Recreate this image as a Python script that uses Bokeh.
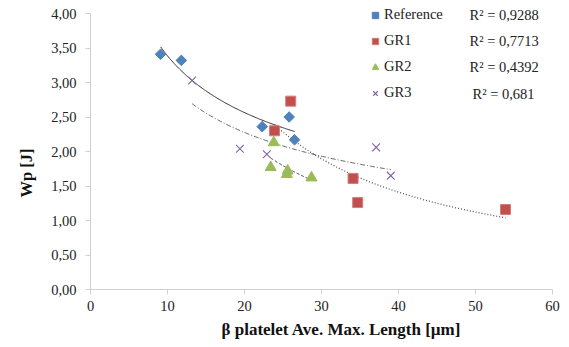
import numpy as np
from bokeh.plotting import figure
from bokeh.models import (Legend, LegendItem, Label, Title, FixedTicker,
                          CustomJSTickFormatter, Range1d)
from bokeh.embed import file_html
from bokeh.resources import INLINE

# ---- data ----
series_names = ["Reference", "GR1", "GR2", "GR3"]
ref_x = [9.1, 11.8, 22.3, 25.8, 26.5]
ref_y = [3.41, 3.32, 2.36, 2.50, 2.17]
gr1_x = [23.9, 26.0, 34.1, 34.7, 53.9]
gr1_y = [2.30, 2.73, 1.61, 1.26, 1.16]
gr2_x = [23.4, 23.8, 25.5, 25.6, 28.7]
gr2_y = [1.77, 2.13, 1.67, 1.72, 1.62]
gr3_x = [13.2, 19.4, 22.9, 37.1, 39.0]
gr3_y = [3.03, 2.04, 1.96, 2.06, 1.65]
r2_labels = ["R² = 0,9288", "R² = 0,7713", "R² = 0,4392", "R² = 0,681"]
x_ticks = [0, 10, 20, 30, 40, 50, 60]
y_ticks = [0.0, 0.5, 1.0, 1.5, 2.0, 2.5, 3.0, 3.5, 4.0]
x_title = "β platelet Ave. Max. Length [µm]"
y_title = "Wp [J]"

FONT = "Liberation Serif"
colors = ["#4F81BD", "#C0504D", "#9BBB59", "#8064A2"]

# frame reaches the top edge; 4,00 sits 13 px below it
p = figure(width=569, height=347, output_backend="svg", toolbar_location=None,
           x_range=Range1d(0, 60), y_range=Range1d(0, 4 * 289 / 276),
           min_border_left=90, min_border_right=17, min_border_top=0,
           min_border_bottom=58)
p.outline_line_color = None
p.xgrid.visible = False
p.ygrid.visible = False
p.background_fill_color = "white"
p.border_fill_color = "white"

for ax in (p.xaxis[0], p.yaxis[0]):
    ax.axis_line_color = "#D0D0D0"
    ax.major_tick_line_color = "#D0D0D0"
    ax.minor_tick_line_color = None
    ax.major_tick_in = 0
    ax.major_tick_out = 5
    ax.major_label_text_font = FONT
    ax.major_label_text_font_size = "14.5px"
    ax.major_label_text_color = "#222222"

p.xaxis.ticker = FixedTicker(ticks=x_ticks)
p.yaxis.ticker = FixedTicker(ticks=y_ticks)
p.yaxis.bounds = (0, 4)
p.yaxis.formatter = CustomJSTickFormatter(code="return tick.toFixed(2).replace('.', ',');")
p.yaxis.major_label_standoff = 9
p.xaxis.major_label_standoff = 6

data = [(ref_x, ref_y), (gr1_x, gr1_y), (gr2_x, gr2_y), (gr3_x, gr3_y)]
trend_styles = [("solid", "#333333", 1.0), ("1 2", "#555555", 1.3),
                ("3 2", "#333333", 1.0), ("5 2 1 2", "#666666", 1.0)]

# power trendlines fitted from the data (log-log least squares)
for (xs, ys), (dash, col, lw) in zip(data, trend_styles):
    lx, ly = np.log(xs), np.log(ys)
    b, lna = np.polyfit(lx, ly, 1)
    tx = np.linspace(min(xs), max(xs), 120)
    ty = np.exp(lna) * tx ** b
    p.line(tx, ty, line_color=col, line_dash=dash, line_width=lw)

r_ref = p.scatter(ref_x, ref_y, marker="square", size=7.5, angle=np.pi / 4,
                  fill_color=colors[0], line_color=colors[0])
r_gr1 = p.scatter(gr1_x, gr1_y, marker="square", size=10,
                  fill_color=colors[1], line_color="#D47C7A", line_width=1)
r_gr2 = p.scatter(gr2_x, gr2_y, marker="triangle", size=11,
                  fill_color=colors[2], line_color=colors[2])
r_gr3 = p.scatter(gr3_x, gr3_y, marker="x", size=11, line_color=colors[3],
                  line_width=1.1)

legend = Legend(items=[LegendItem(label=n, renderers=[r]) for n, r in
                       zip(series_names, [r_ref, r_gr1, r_gr2, r_gr3])],
                location=(277, 188), orientation="vertical",
                glyph_width=16, glyph_height=16, label_height=16,
                label_standoff=1, spacing=9, padding=0, margin=0,
                border_line_color=None, background_fill_alpha=0,
                label_text_font=FONT, label_text_font_size="14.5px",
                label_text_color="#222222")
p.add_layout(legend, "center")

r2_x = [379, 379, 379, 382]
r2_y = [275, 249, 223, 196]
for txt, lx, ly in zip(r2_labels, r2_x, r2_y):
    p.add_layout(Label(x=lx, y=ly, x_units="screen", y_units="screen", text=txt,
                       text_font=FONT, text_font_size="14.5px",
                       text_baseline="middle", text_color="#222222"))

# axis titles as side-panel titles, shifted along the axis like the reference
p.add_layout(Title(text=x_title, align="left", offset=131, standoff=9,
                   text_font=FONT, text_font_size="17px", text_font_style="bold",
                   text_color="#111111"), "below")
p.add_layout(Title(text=y_title, align="left", offset=92, standoff=25,
                   text_font=FONT, text_font_size="16.5px", text_font_style="bold",
                   text_color="#111111"), "left")

open("out.html", "w").write(file_html(p, INLINE))
